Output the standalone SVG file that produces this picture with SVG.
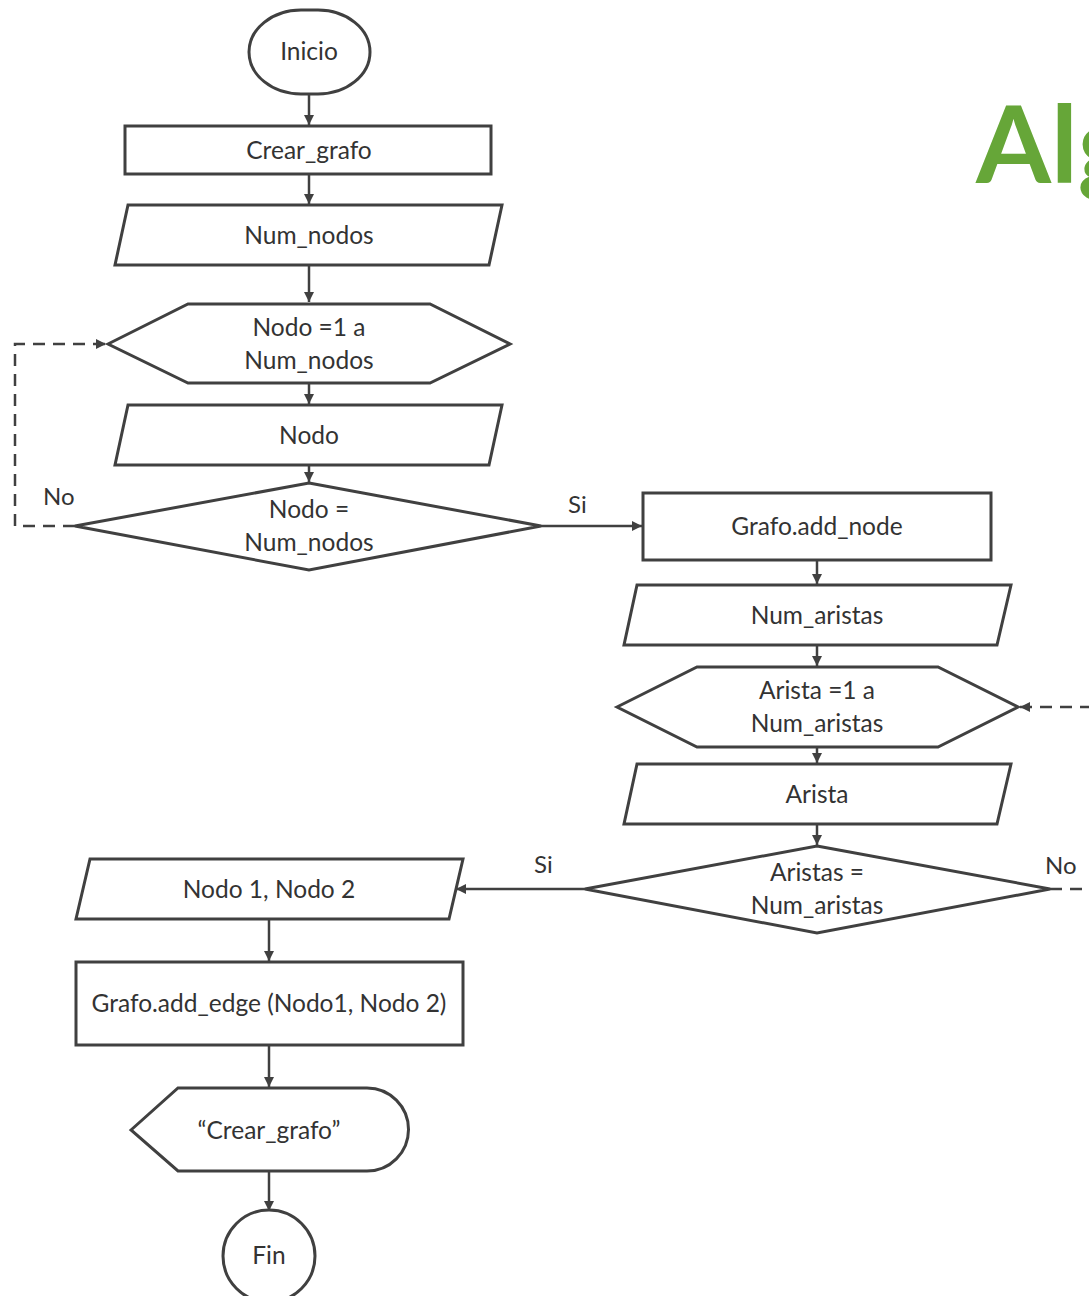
<svg xmlns="http://www.w3.org/2000/svg" width="1089" height="1296" viewBox="0 0 1089 1296">
  <style>
    .shape { fill: #ffffff; stroke: #404040; stroke-width: 3; stroke-linejoin: miter; }
    .flow { fill: none; stroke: #404040; stroke-width: 2.5; }
    .dash { fill: none; stroke: #404040; stroke-width: 2.5; stroke-dasharray: 12 8; }
    .lbl { font-family: Lato, "Liberation Sans", sans-serif; font-size: 24.5px; fill: #333333; text-anchor: middle; }
    .side { font-family: Lato, "Liberation Sans", sans-serif; font-size: 24px; fill: #333333; }
    .title { font-family: Lato, "Open Sans", sans-serif; font-weight: bold; font-size: 108px; fill: #66A638; }
  </style>
  <defs>
    <marker id="arrow" viewBox="0 0 10 10" refX="10" refY="5" markerWidth="4" markerHeight="4" orient="auto" markerUnits="strokeWidth">
      <path d="M0,0 L10,5 L0,10 Z" fill="#404040"/>
    </marker>
  </defs>

  <rect width="1089" height="1296" fill="#ffffff"/>

  <!-- heading, running off the right edge -->
  <text class="title" x="976" y="183">Alg</text>

  <!-- connectors -->
  <g id="connectors">
    <line class="flow" x1="309" y1="94" x2="309" y2="125" marker-end="url(#arrow)"/>
    <line class="flow" x1="309" y1="174" x2="309" y2="204" marker-end="url(#arrow)"/>
    <line class="flow" x1="309" y1="265" x2="309" y2="302" marker-end="url(#arrow)"/>
    <line class="flow" x1="309" y1="383" x2="309" y2="404" marker-end="url(#arrow)"/>
    <line class="flow" x1="309" y1="465" x2="309" y2="482" marker-end="url(#arrow)"/>
    <polyline class="dash" points="75,526 15,526 15,344 106,344" marker-end="url(#arrow)"/>
    <line class="flow" x1="541" y1="526" x2="642" y2="526" marker-end="url(#arrow)"/>
    <line class="flow" x1="817" y1="560" x2="817" y2="584" marker-end="url(#arrow)"/>
    <line class="flow" x1="817" y1="645" x2="817" y2="666" marker-end="url(#arrow)"/>
    <line class="flow" x1="817" y1="747" x2="817" y2="763" marker-end="url(#arrow)"/>
    <line class="flow" x1="817" y1="824" x2="817" y2="845" marker-end="url(#arrow)"/>
    <line class="dash" x1="1092" y1="707" x2="1020" y2="707" marker-end="url(#arrow)"/>
    <line class="flow" x1="585" y1="889" x2="456" y2="889" marker-end="url(#arrow)"/>
    <line class="dash" x1="1050" y1="889" x2="1092" y2="889"/>
    <line class="flow" x1="269" y1="919" x2="269" y2="961" marker-end="url(#arrow)"/>
    <line class="flow" x1="269" y1="1045" x2="269" y2="1087" marker-end="url(#arrow)"/>
    <line class="flow" x1="269" y1="1171" x2="269" y2="1211" marker-end="url(#arrow)"/>
    <text class="side" x="43" y="505">No</text>
    <text class="side" x="568" y="513">Si</text>
    <text class="side" x="534" y="873">Si</text>
    <text class="side" x="1045" y="874">No</text>
  </g>

  <g id="inicio">
    <rect class="shape" x="249" y="10" width="121" height="84" rx="52" ry="42"/>
    <text class="lbl" x="309" y="60">Inicio</text>
  </g>

  <g id="crear-grafo">
    <rect class="shape" x="125" y="126" width="366" height="48"/>
    <text class="lbl" x="309" y="159">Crear_grafo</text>
  </g>

  <g id="num-nodos">
    <polygon class="shape" points="128,205 502,205 489,265 115,265"/>
    <text class="lbl" x="309" y="244">Num_nodos</text>
  </g>

  <g id="loop-nodo">
    <polygon class="shape" points="108,344 188,304 430,304 510,344 430,383 188,383"/>
    <text class="lbl" x="309" y="336">Nodo =1 a</text>
    <text class="lbl" x="309" y="369">Num_nodos</text>
  </g>

  <g id="nodo">
    <polygon class="shape" points="128,405 502,405 489,465 115,465"/>
    <text class="lbl" x="309" y="444">Nodo</text>
  </g>

  <g id="check-nodo">
    <polygon class="shape" points="309,483 541,526 309,570 75,526"/>
    <text class="lbl" x="309" y="518">Nodo =</text>
    <text class="lbl" x="309" y="551">Num_nodos</text>
  </g>

  <g id="add-node">
    <rect class="shape" x="643" y="493" width="348" height="67"/>
    <text class="lbl" x="817" y="535">Grafo.add_node</text>
  </g>

  <g id="num-aristas">
    <polygon class="shape" points="637,585 1011,585 997,645 624,645"/>
    <text class="lbl" x="817" y="624">Num_aristas</text>
  </g>

  <g id="loop-arista">
    <polygon class="shape" points="617,707 697,667 938,667 1018,707 938,747 697,747"/>
    <text class="lbl" x="817" y="699">Arista =1 a</text>
    <text class="lbl" x="817" y="732">Num_aristas</text>
  </g>

  <g id="arista">
    <polygon class="shape" points="637,764 1011,764 997,824 624,824"/>
    <text class="lbl" x="817" y="803">Arista</text>
  </g>

  <g id="check-arista">
    <polygon class="shape" points="817,846 1050,889 817,933 585,889"/>
    <text class="lbl" x="817" y="881">Aristas =</text>
    <text class="lbl" x="817" y="914">Num_aristas</text>
  </g>

  <g id="nodos-par">
    <polygon class="shape" points="90,859 463,859 449,919 76,919"/>
    <text class="lbl" x="269" y="898">Nodo 1, Nodo 2</text>
  </g>

  <g id="add-edge">
    <rect class="shape" x="76" y="962" width="387" height="83"/>
    <text class="lbl" x="269" y="1012">Grafo.add_edge (Nodo1, Nodo 2)</text>
  </g>

  <g id="mostrar">
    <path class="shape" d="M131,1130 L178,1088 L367,1088 A41,41 0 0 1 367,1171 L178,1171 Z"/>
    <text class="lbl" x="269" y="1139">“Crear_grafo”</text>
  </g>

  <g id="fin">
    <circle class="shape" cx="269" cy="1256" r="46"/>
    <text class="lbl" x="269" y="1264">Fin</text>
  </g>
</svg>
